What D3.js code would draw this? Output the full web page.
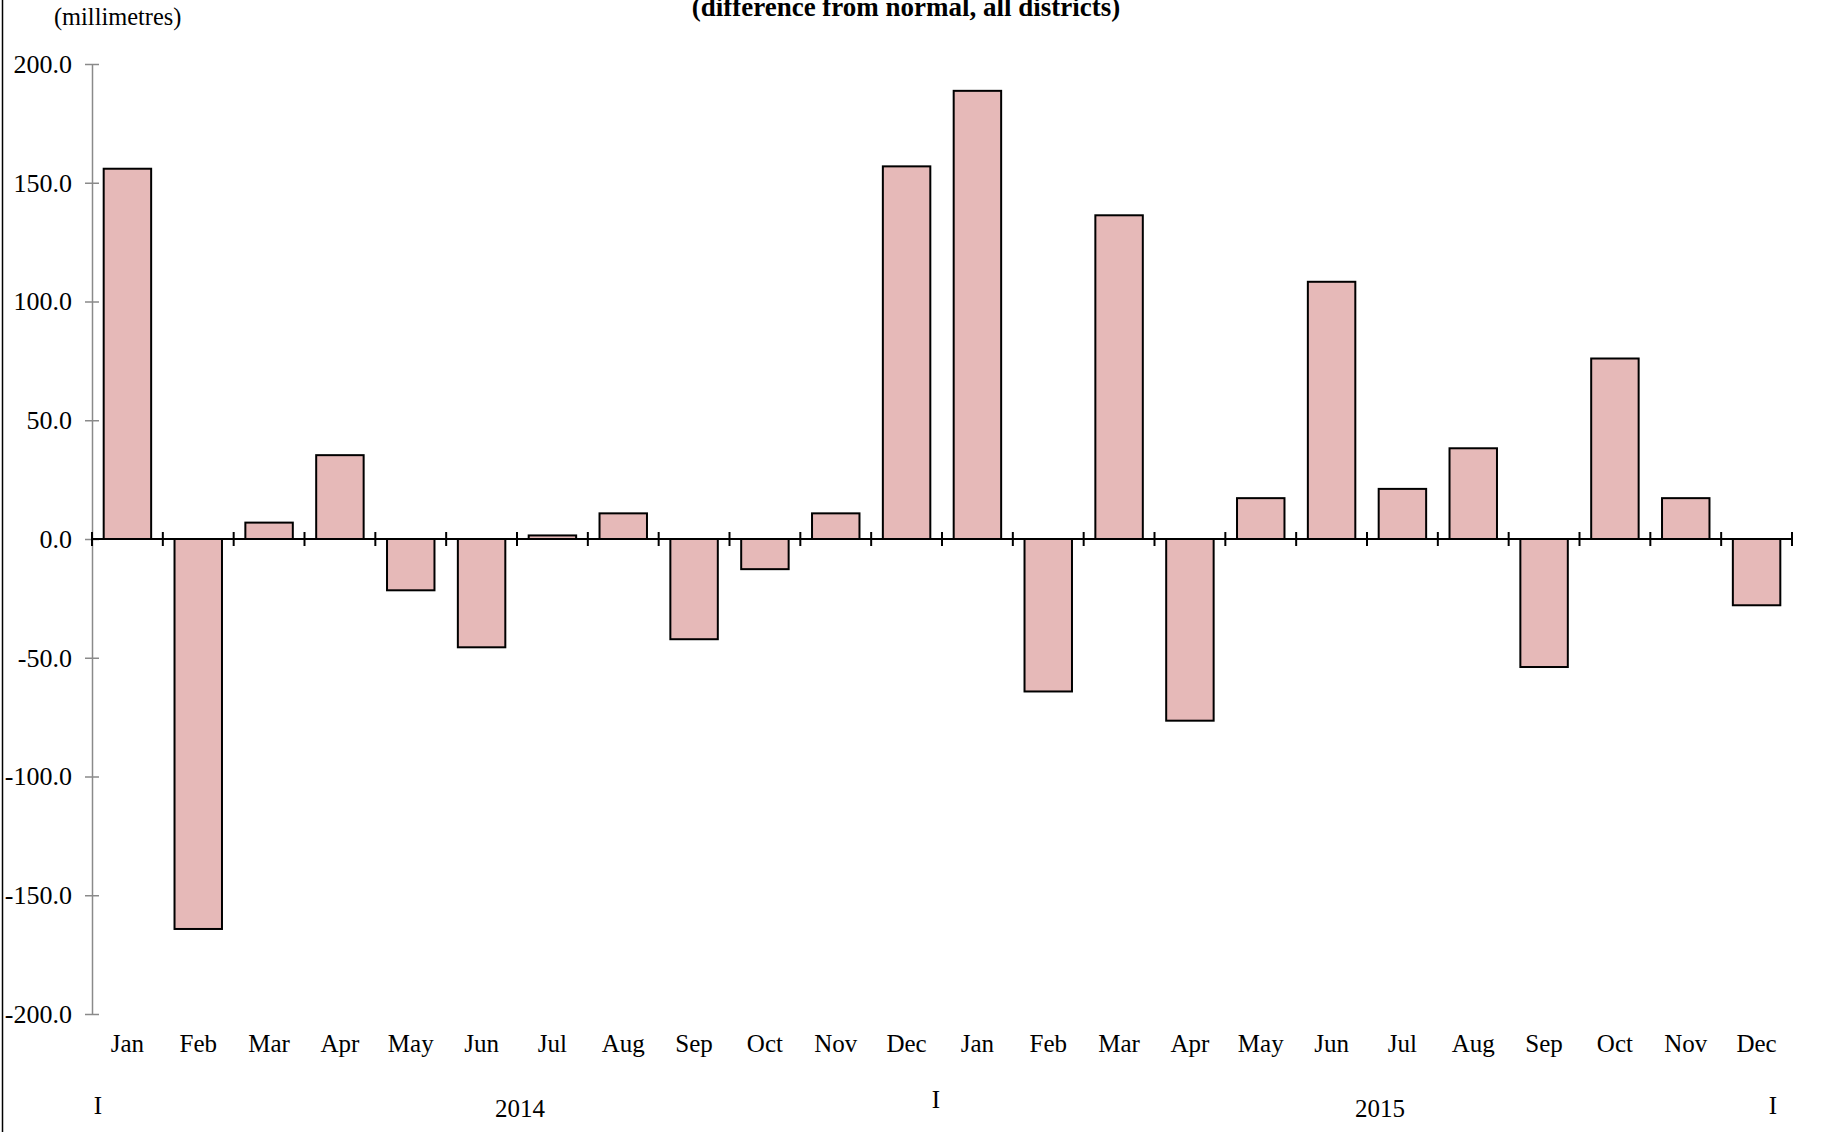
<!DOCTYPE html>
<html>
<head>
<meta charset="utf-8">
<script src="https://cdn.jsdelivr.net/npm/d3@7"></script>
<style>
  html, body { margin: 0; padding: 0; background: #fff; }
  svg { display: block; }
  text { font-family: "Liberation Serif", "Times New Roman", serif; fill: #000; }
</style>
</head>
<body>
<svg id="chart" width="1823" height="1132"></svg>
<script>
const months = ["Jan","Feb","Mar","Apr","May","Jun","Jul","Aug","Sep","Oct","Nov","Dec",
                "Jan","Feb","Mar","Apr","May","Jun","Jul","Aug","Sep","Oct","Nov","Dec"];
const years = ["2014", "2015"];
const rainfallDiff = [155.9, -164.2, 6.9, 35.3, -21.6, -45.6, 1.5, 10.8, -42.2, -12.7, 10.8, 156.9,
                      188.7, -64.2, 136.3, -76.5, 17.2, 108.3, 21.1, 38.2, -53.9, 76.0, 17.2, -27.9];
const yTicks = [200, 150, 100, 50, 0, -50, -100, -150, -200];
const titleText = "(difference from normal, all districts)";
const unitText = "(millimetres)";

(function () {
const svg = d3.select("#chart");
const pLeft = 92, pRight = 1792, pTop = 64, pBottom = 1014;
const keys = months.map((m, i) => i);

const x = d3.scaleBand().domain(keys).range([pLeft, pRight]).paddingInner(0.33).paddingOuter(0.165);
const y = d3.scaleLinear().domain([-200, 200]).range([pBottom, pTop]);

// frame line on the left
svg.append("line").attr("x1", 2.5).attr("x2", 2.5).attr("y1", 0).attr("y2", 1132)
  .attr("stroke", "#000").attr("stroke-width", 1.5);

// title + unit
svg.append("text").attr("x", 906).attr("y", 16).attr("text-anchor", "middle")
  .attr("font-weight", "bold").attr("font-size", 27).text(titleText);
svg.append("text").attr("x", 54).attr("y", 25).attr("font-size", 24.4).text(unitText);

// y axis
const yAxis = d3.axisLeft(y).tickValues(yTicks).tickSize(0).tickPadding(20)
  .tickFormat(d => d.toFixed(1));
const ga = svg.append("g").attr("transform", `translate(${pLeft},0)`).call(yAxis);
ga.select(".domain").attr("stroke", "#8a8a8a").attr("stroke-width", 1.5);
ga.selectAll(".tick text").attr("font-size", 26).attr("font-family", "Liberation Serif").attr("fill", "#000");
ga.selectAll(".tick").append("line").attr("x1", -7).attr("x2", 7)
  .attr("stroke", "#8a8a8a").attr("stroke-width", 1.5);

// bars
svg.append("g").selectAll("rect").data(rainfallDiff).join("rect")
  .attr("x", (d, i) => x(i))
  .attr("width", x.bandwidth())
  .attr("y", d => y(Math.max(0, d)))
  .attr("height", d => Math.abs(y(d) - y(0)))
  .attr("fill", "#E6B9B8").attr("stroke", "#000").attr("stroke-width", 2);

// zero line with category boundary ticks
const y0 = y(0);
svg.append("line").attr("x1", pLeft).attr("x2", pRight).attr("y1", y0).attr("y2", y0)
  .attr("stroke", "#000").attr("stroke-width", 2);
const step = x.step();
const boundaries = d3.range(months.length + 1).map(i => pLeft + i * step);
svg.append("g").selectAll("line").data(boundaries).join("line")
  .attr("x1", d => d).attr("x2", d => d).attr("y1", y0 - 7).attr("y2", y0 + 7)
  .attr("stroke", "#000").attr("stroke-width", 2);

// month labels
svg.append("g").selectAll("text").data(months).join("text")
  .attr("x", (d, i) => x(i) + x.bandwidth() / 2).attr("y", 1052)
  .attr("text-anchor", "middle").attr("font-size", 25).text(d => d);

// year labels
const yearPos = [boundaries[6] + 3, boundaries[18] + 13];
svg.append("g").selectAll("text").data(years).join("text")
  .attr("x", (d, i) => yearPos[i]).attr("y", 1117)
  .attr("text-anchor", "middle").attr("font-size", 25).text(d => d);

// year separators "I"
const sepPos = [[boundaries[0] + 6, 1114], [boundaries[12] - 6, 1108], [boundaries[24] - 19, 1114]];
svg.append("g").selectAll("text").data(sepPos).join("text")
  .attr("x", d => d[0]).attr("y", d => d[1])
  .attr("text-anchor", "middle").attr("font-size", 25).text("I");
})();
</script>
</body>
</html>
